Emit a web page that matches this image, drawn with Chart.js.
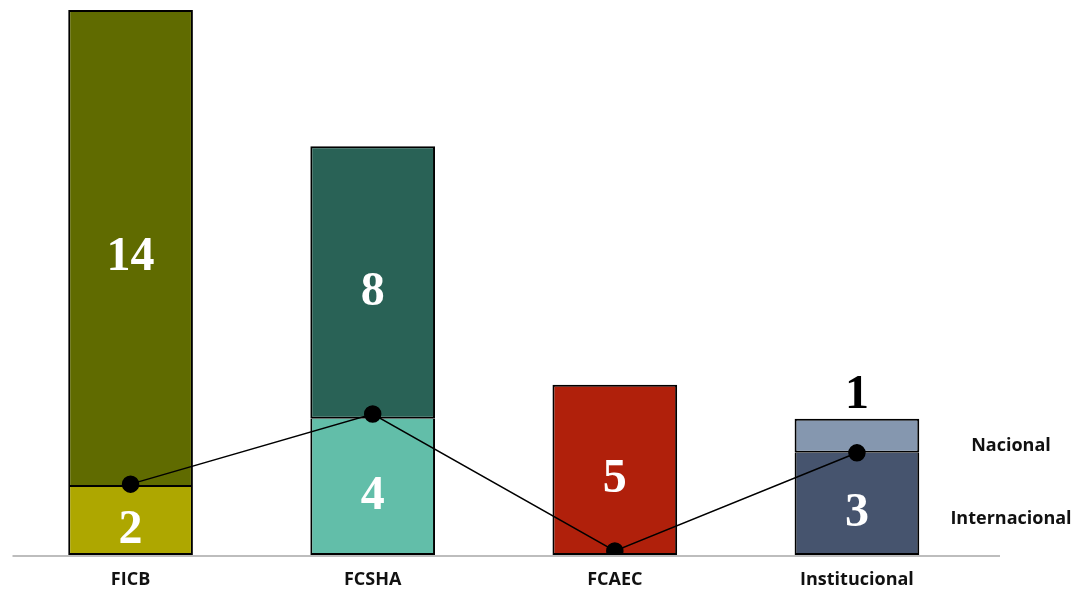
<!DOCTYPE html>
<html>
<head>
<meta charset="utf-8">
<script src="https://cdn.jsdelivr.net/npm/chart.js@4.4.1/dist/chart.umd.min.js"></script>
<style>
  html, body { margin: 0; padding: 0; background: #ffffff; }
  #wrap { width: 1084px; height: 593px; position: relative; }
</style>
</head>
<body>
<div id="wrap"><canvas id="c" width="1084" height="593"></canvas></div>
<script>
const categories = ['FICB', 'FCSHA', 'FCAEC', 'Institucional'];
const internacional = [2, 4, null, 3];
const nacional = [14, 8, 5, 1];
const lineValues = [2.08, 4.14, 0.12, 3.0];
const seriesNames = ['Nacional', 'Internacional'];

const internacionalColors = ['#AEA700', '#62BEA9', '#B0200B', '#46546E'];
const nacionalColors = ['#606B00', '#296256', '#B0200B', '#8597AF'];

const labelPlugin = {
  id: 'labelPlugin',
  afterDatasetsDraw(chart) {
    const ctx = chart.ctx;
    const y = chart.scales.y;
    const area = chart.chartArea;
    ctx.save();
    ctx.strokeStyle = '#BDBDBD';
    ctx.lineWidth = 2;
    ctx.beginPath();
    ctx.moveTo(area.left + 3, y.getPixelForValue(0) + 1);
    ctx.lineTo(area.right + 22, y.getPixelForValue(0) + 1);
    ctx.stroke();
    ctx.restore();
  },
  afterDraw(chart) {
    const ctx = chart.ctx;
    const x = chart.scales.x, y = chart.scales.y;
    ctx.save();
    ctx.textAlign = 'center';
    ctx.textBaseline = 'alphabetic';
    ctx.font = 'bold 48px "Liberation Serif", serif';
    categories.forEach((c, i) => {
      const cx = x.getPixelForValue(i);
      const a = internacional[i] || 0;
      const b = nacional[i] || 0;
      if (internacional[i]) {
        ctx.fillStyle = '#ffffff';
        ctx.fillText(String(a), cx, y.getPixelForValue(a / 2) + 22);
      }
      if (i === 3) {
        ctx.fillStyle = '#000000';
        ctx.fillText(String(b), cx, y.getPixelForValue(a + b) - 11);
      } else {
        ctx.fillStyle = '#ffffff';
        ctx.fillText(String(b), cx, y.getPixelForValue(a + b / 2) + 22);
      }
    });
    ctx.fillStyle = '#111111';
    ctx.textBaseline = 'middle';
    ctx.font = 'bold 18px "Open Sans", sans-serif';
    const rx = chart.chartArea.right + 33;
    ctx.fillText(seriesNames[0], rx, y.getPixelForValue(3.2));
    ctx.fillText(seriesNames[1], rx, y.getPixelForValue(1.05));
    ctx.restore();
  }
};

new Chart(document.getElementById('c'), {
  data: {
    labels: categories,
    datasets: [
      {
        type: 'bar',
        label: seriesNames[1],
        data: internacional,
        backgroundColor: internacionalColors,
        borderColor: '#000000',
        borderWidth: { top: 0, left: 2, right: 2, bottom: 2 },
        borderSkipped: false,
        inflateAmount: 0,
        barPercentage: 0.515,
        categoryPercentage: 1,
        order: 1
      },
      {
        type: 'bar',
        label: seriesNames[0],
        data: nacional,
        backgroundColor: nacionalColors,
        borderColor: '#000000',
        borderWidth: { top: 2, left: 2, right: 2, bottom: 2 },
        borderSkipped: false,
        inflateAmount: 0,
        barPercentage: 0.515,
        categoryPercentage: 1,
        order: 1
      },
      {
        type: 'line',
        label: 'Línea',
        data: lineValues,
        borderColor: '#000000',
        backgroundColor: '#000000',
        borderWidth: 1.5,
        pointRadius: 8,
        pointHoverRadius: 8,
        pointBackgroundColor: '#000000',
        tension: 0,
        order: 0
      }
    ]
  },
  options: {
    responsive: false,
    animation: false,
    layout: { padding: { left: 4.5, right: 106, top: 10, bottom: 0 } },
    plugins: { legend: { display: false }, tooltip: { enabled: false } },
    scales: {
      x: {
        stacked: true,
        grid: { display: false, drawTicks: false },
        border: { display: false },
        ticks: { color: '#111111', font: { family: 'Open Sans', weight: 'bold', size: 18 }, padding: 14 },
        afterFit(scale) { scale.height = 38; }
      },
      y: {
        stacked: true,
        display: false,
        min: 0,
        max: 16
      }
    }
  },
  plugins: [labelPlugin]
});
</script>
</body>
</html>
